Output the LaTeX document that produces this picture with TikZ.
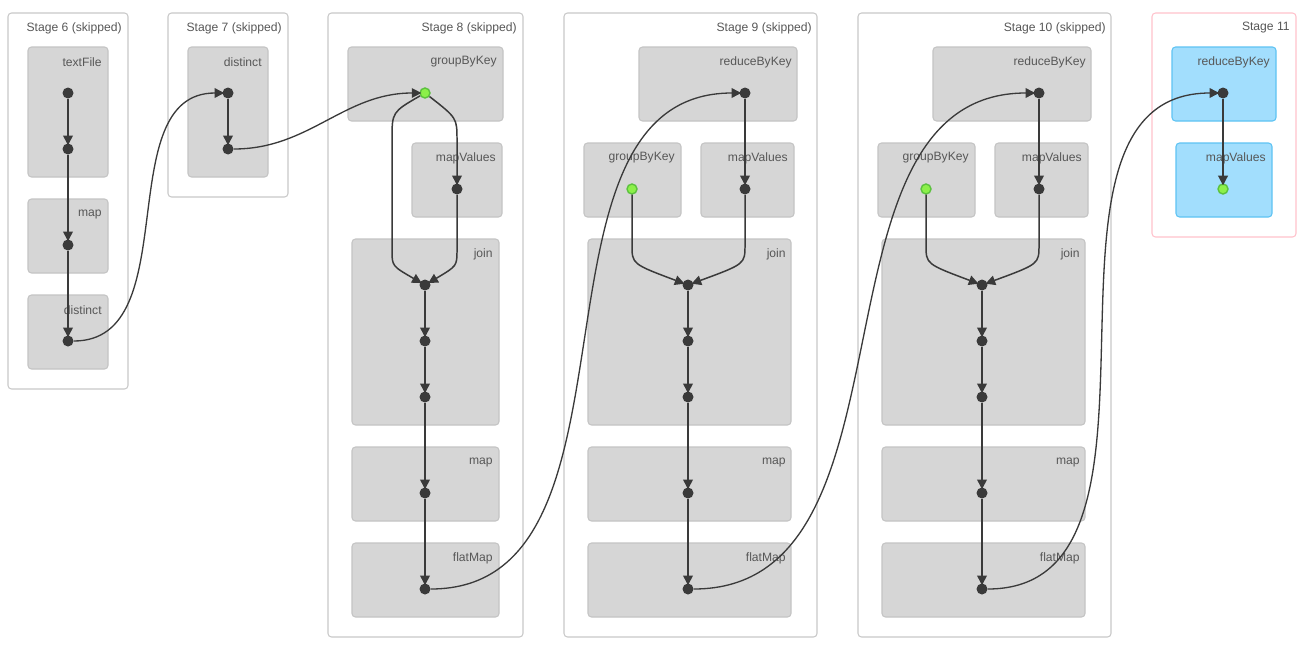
\documentclass[tikz,border=0pt]{standalone}
\usepackage{fontspec}
\setmainfont{Liberation Sans}
\usepackage{tikz}
\usetikzlibrary{arrows.meta}

\definecolor{stageline}{HTML}{C9C9C9}
\definecolor{opfill}{HTML}{D6D6D6}
\definecolor{opline}{HTML}{C4C4C4}
\definecolor{dotc}{HTML}{3A3A3A}
\definecolor{cachefill}{HTML}{8CF04A}
\definecolor{cacheline}{HTML}{5CC23E}
\definecolor{activefill}{HTML}{A2DEFD}
\definecolor{activeline}{HTML}{5EC3F3}
\definecolor{activestage}{HTML}{FFC2CC}
\definecolor{lbl}{HTML}{575757}

\begin{document}
\begin{tikzpicture}[x=0.02cm, y=-0.02cm,
  every node/.style={font=\fontsize{6.9}{8}\selectfont},
  stagebox/.style={draw=stageline, fill=white, line width=0.6pt, rounded corners=2pt},
  opbox/.style={draw=opline, fill=opfill, line width=0.6pt, rounded corners=2pt},
  livebox/.style={draw=activeline, fill=activefill, line width=0.6pt, rounded corners=2pt},
  oplabel/.style={anchor=east, inner sep=0pt, text=lbl},
  dot/.style={circle, fill=dotc, inner sep=0pt, minimum size=0.22cm},
  cached/.style={circle, fill=cachefill, draw=cacheline, line width=0.8pt, inner sep=0pt, minimum size=0.2cm},
  flow/.style={draw=dotc, line width=0.85pt, shorten >=-1.2pt, -{Triangle[length=5.5pt,width=5.5pt]}},
  link/.style={draw=dotc, line width=0.75pt, shorten >=-1.2pt, -{Triangle[length=5.5pt,width=5.5pt]}}]
  \useasboundingbox[fill=white] (0,0) rectangle (1304,649);

  % stage boxes
  \draw[stagebox] (8,13) rectangle (128,389);
  \draw[stagebox] (168,13) rectangle (288,197);
  \draw[stagebox] (328,13) rectangle (523,637);
  \draw[stagebox] (564,13) rectangle (817,637);
  \draw[stagebox] (858,13) rectangle (1111,637);
  \draw[stagebox, draw=activestage] (1152,13) rectangle (1296,237);
  \node[oplabel] (st6) at (122,28) {Stage 6 (skipped)};
  \node[oplabel] (st7) at (282,28) {Stage 7 (skipped)};
  \node[oplabel] (st8) at (517,28) {Stage 8 (skipped)};
  \node[oplabel] (st9) at (812,28) {Stage 9 (skipped)};
  \node[oplabel] (st10) at (1106,28) {Stage 10 (skipped)};
  \node[oplabel] (st11) at (1290,28) {Stage 11};

  % stage 6
  \draw[opbox] (28,47) rectangle (108,177);
  \draw[opbox] (28,199) rectangle (108,273);
  \draw[opbox] (28,295) rectangle (108,369);
  \node[oplabel] (l6a) at (102,62) {textFile};
  \node[oplabel] (l6b) at (102,214) {map};
  \node[oplabel] (l6c) at (102,310) {distinct};

  % stage 7
  \draw[opbox] (188,47) rectangle (268,177);
  \node[oplabel] (l7a) at (262,62) {distinct};

  % stage 8
  \draw[opbox] (348,47) rectangle (503,121);
  \draw[opbox] (412,143) rectangle (502,217);
  \draw[opbox] (352,239) rectangle (499,425);
  \draw[opbox] (352,447) rectangle (499,521);
  \draw[opbox] (352,543) rectangle (499,617);
  \node[oplabel] (l8a) at (497,62) {groupByKey};
  \node[oplabel] (l8b) at (496,158) {mapValues};
  \node[oplabel] (l8c) at (493,254) {join};
  \node[oplabel] (l8d) at (493,462) {map};
  \node[oplabel] (l8e) at (493,558) {flatMap};

  % stage 9
  \draw[opbox] (639,47) rectangle (797,121);
  \draw[opbox] (584,143) rectangle (681,217);
  \draw[opbox] (701,143) rectangle (794,217);
  \draw[opbox] (588,239) rectangle (791,425);
  \draw[opbox] (588,447) rectangle (791,521);
  \draw[opbox] (588,543) rectangle (791,617);
  \node[oplabel] (l9a) at (792,62) {reduceByKey};
  \node[oplabel] (l9b) at (675,158) {groupByKey};
  \node[oplabel] (l9c) at (788,158) {mapValues};
  \node[oplabel] (l9d) at (786,254) {join};
  \node[oplabel] (l9e) at (786,462) {map};
  \node[oplabel] (l9f) at (786,558) {flatMap};

  % stage 10
  \draw[opbox] (933,47) rectangle (1091,121);
  \draw[opbox] (878,143) rectangle (975,217);
  \draw[opbox] (995,143) rectangle (1088,217);
  \draw[opbox] (882,239) rectangle (1085,425);
  \draw[opbox] (882,447) rectangle (1085,521);
  \draw[opbox] (882,543) rectangle (1085,617);
  \node[oplabel] (l10a) at (1086,62) {reduceByKey};
  \node[oplabel] (l10b) at (969,158) {groupByKey};
  \node[oplabel] (l10c) at (1082,158) {mapValues};
  \node[oplabel] (l10d) at (1080,254) {join};
  \node[oplabel] (l10e) at (1080,462) {map};
  \node[oplabel] (l10f) at (1080,558) {flatMap};

  % stage 11
  \draw[livebox] (1172,47) rectangle (1276,121);
  \draw[livebox] (1176,143) rectangle (1272,217);
  \node[oplabel] (l11a) at (1270,62) {reduceByKey};
  \node[oplabel] (l11b) at (1266,158) {mapValues};

  % rdd dots
  \node[dot] (d6a) at (68,93) {};
  \node[dot] (d6b) at (68,149) {};
  \node[dot] (d6c) at (68,245) {};
  \node[dot] (d6d) at (68,341) {};
  \node[dot] (d7a) at (228,93) {};
  \node[dot] (d7b) at (228,149) {};
  \node[cached] (d8a) at (425,93) {};
  \node[dot] (d8b) at (457,189) {};
  \node[dot] (d8c) at (425,285) {};
  \node[dot] (d8d) at (425,341) {};
  \node[dot] (d8e) at (425,397) {};
  \node[dot] (d8f) at (425,493) {};
  \node[dot] (d8g) at (425,589) {};
  \node[dot] (d9a) at (745,93) {};
  \node[cached] (d9b) at (632,189) {};
  \node[dot] (d9c) at (745,189) {};
  \node[dot] (d9d) at (688,285) {};
  \node[dot] (d9e) at (688,341) {};
  \node[dot] (d9f) at (688,397) {};
  \node[dot] (d9g) at (688,493) {};
  \node[dot] (d9h) at (688,589) {};
  \node[dot] (d10a) at (1039,93) {};
  \node[cached] (d10b) at (926,189) {};
  \node[dot] (d10c) at (1039,189) {};
  \node[dot] (d10d) at (982,285) {};
  \node[dot] (d10e) at (982,341) {};
  \node[dot] (d10f) at (982,397) {};
  \node[dot] (d10g) at (982,493) {};
  \node[dot] (d10h) at (982,589) {};
  \node[dot] (d11a) at (1223,93) {};
  \node[cached] (d11b) at (1223,189) {};

  % edges inside stages
  \draw[flow] (d6a) -- (d6b);
  \draw[flow] (d6b) -- (d6c);
  \draw[flow] (d6c) -- (d6d);
  \draw[flow] (d7a) -- (d7b);
  \draw[flow] (d8a) .. controls (457,118) .. (457,140) -- (d8b);
  \draw[flow] (d8a) .. controls (392,112) .. (392,140) -- (392,250) .. controls (392,266) .. (d8c);
  \draw[flow] (d8b) -- (457,250) .. controls (457,266) .. (d8c);
  \draw[flow] (d8c) -- (d8d);
  \draw[flow] (d8d) -- (d8e);
  \draw[flow] (d8e) -- (d8f);
  \draw[flow] (d8f) -- (d8g);
  \draw[flow] (d9a) -- (d9c);
  \draw[flow] (d9b) -- (632,245) .. controls (632,264) .. (d9d);
  \draw[flow] (d9c) -- (745,245) .. controls (745,264) .. (d9d);
  \draw[flow] (d9d) -- (d9e);
  \draw[flow] (d9e) -- (d9f);
  \draw[flow] (d9f) -- (d9g);
  \draw[flow] (d9g) -- (d9h);
  \draw[flow] (d10a) -- (d10c);
  \draw[flow] (d10b) -- (926,245) .. controls (926,264) .. (d10d);
  \draw[flow] (d10c) -- (1039,245) .. controls (1039,264) .. (d10d);
  \draw[flow] (d10d) -- (d10e);
  \draw[flow] (d10e) -- (d10f);
  \draw[flow] (d10f) -- (d10g);
  \draw[flow] (d10g) -- (d10h);
  \draw[flow] (d11a) -- (d11b);

  % edges between stages
  \draw[link] (d6d) to[out=0, in=180] (d7a);
  \draw[link] (d7b) to[out=0, in=180] (d8a);
  \draw[link] (d8g) to[out=0, in=180] (d9a);
  \draw[link] (d9h) to[out=0, in=180] (d10a);
  \draw[link] (d10h) to[out=0, in=180] (d11a);
\end{tikzpicture}
\end{document}
